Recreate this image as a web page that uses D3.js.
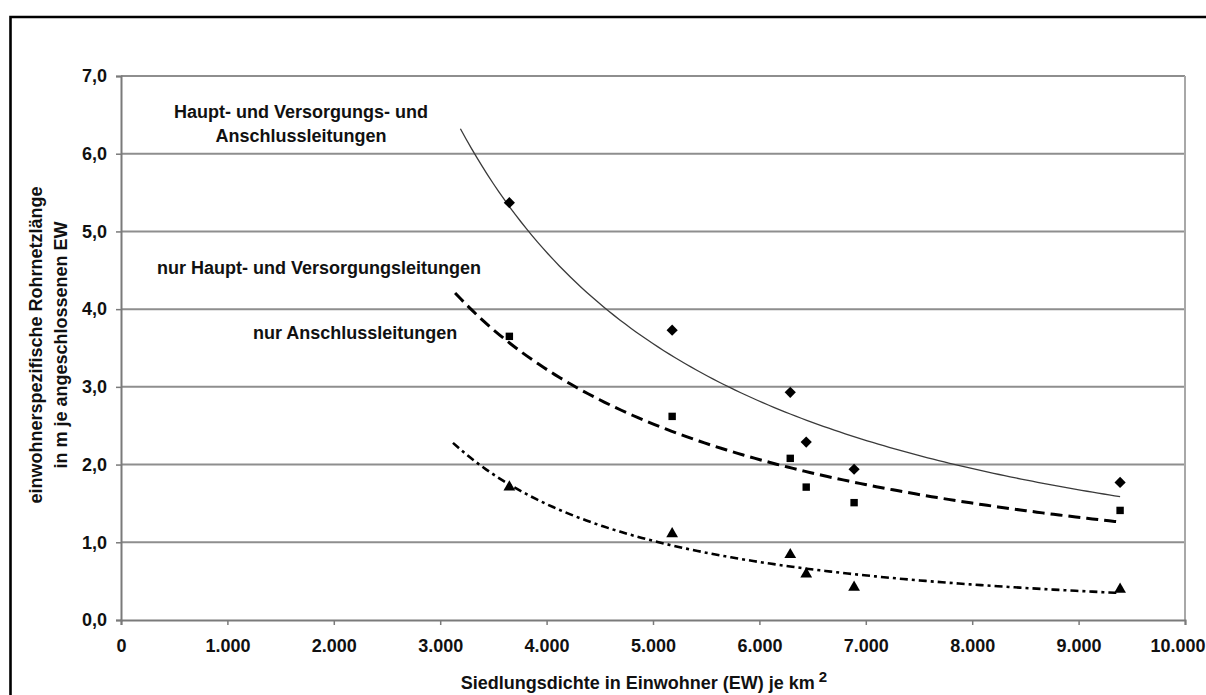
<!DOCTYPE html>
<html>
<head>
<meta charset="utf-8">
<script src="https://cdn.jsdelivr.net/npm/d3@7"></script>
<style>
  html, body { margin: 0; padding: 0; background: #fff; }
  svg { display: block; font-family: "Liberation Sans", Arial, sans-serif; }
  .tick text { font-weight: bold; fill: #111; }
</style>
</head>
<body>
<svg id="chart" width="1206" height="695"></svg>
<script>
// Siedlungsdichte (EW je km²) der untersuchten Netze
const density = [3650, 5180, 6290, 6440, 6890, 9390];
// Einwohnerspezifische Rohrnetzlänge in m je angeschlossenen EW
const totalLength   = [5.37, 3.73, 2.93, 2.29, 1.94, 1.77]; // Haupt-, Versorgungs- und Anschlussleitungen
const mainLength    = [3.65, 2.62, 2.08, 1.71, 1.51, 1.41]; // nur Haupt- und Versorgungsleitungen
const serviceLength = [1.71, 1.11, 0.84, 0.59, 0.42, 0.395]; // nur Anschlussleitungen

// Beginn der (rückwärts verlängerten) Trendlinien
const trendStart = [3190, 3140, 3120];

const yTicks = [0, 1, 2, 3, 4, 5, 6, 7];
const xTicks = [0, 1000, 2000, 3000, 4000, 5000, 6000, 7000, 8000, 9000, 10000];

const seriesLabels = [
  ["Haupt- und Versorgungs- und", "Anschlussleitungen"],
  ["nur Haupt- und Versorgungsleitungen"],
  ["nur Anschlussleitungen"]
];
const xTitle = "Siedlungsdichte in Einwohner (EW) je km";
const yTitle = ["einwohnerspezifische Rohrnetzlänge", "in m je angeschlossenen EW"];

const de = d3.formatLocale({ decimal: ",", thousands: ".", grouping: [3], currency: ["", " €"] });

const svg = d3.select("#chart");
const plot = { left: 121, right: 1185, top: 76, bottom: 620 };

const x = d3.scaleLinear().domain([0, 10000]).range([plot.left, plot.right]);
const y = d3.scaleLinear().domain([0, 7]).range([plot.bottom, plot.top]);

// Rahmen
svg.append("path")
  .attr("d", `M10.5,700 L10.5,17 L1210,17`)
  .attr("fill", "none").attr("stroke", "#000").attr("stroke-width", 2.6);

// Gitterlinien
svg.append("g").selectAll("line").data(yTicks.filter(d => d > 0)).join("line")
  .attr("x1", plot.left).attr("x2", plot.right)
  .attr("y1", d => y(d)).attr("y2", d => y(d))
  .attr("stroke", "#8e8e8e").attr("stroke-width", 2);

// rechter Rand der Zeichenfläche
svg.append("line")
  .attr("x1", plot.right).attr("x2", plot.right)
  .attr("y1", plot.top).attr("y2", plot.bottom)
  .attr("stroke", "#a8a8a8").attr("stroke-width", 2);

// Achsen
const yAxis = svg.append("g").attr("transform", `translate(${plot.left},0)`)
  .call(d3.axisLeft(y).tickValues(yTicks).tickFormat(de.format(",.1f")).tickSize(5).tickPadding(9));
const xAxis = svg.append("g").attr("transform", `translate(0,${plot.bottom})`)
  .call(d3.axisBottom(x).tickValues(xTicks).tickFormat(de.format(",.0f")).tickSize(5).tickPadding(14));
[yAxis, xAxis].forEach(a => {
  a.select(".domain").attr("stroke", "#7a7a7a").attr("stroke-width", 2);
  a.selectAll(".tick line").attr("stroke", "#7a7a7a").attr("stroke-width", 1.5);
  a.selectAll(".tick text").attr("font-size", 18);
});
// letzte Beschriftung bündig am rechten Bildrand
xAxis.selectAll(".tick").filter(d => d === 10000).select("text")
  .attr("text-anchor", "end").attr("x", 1205 - plot.right);

// Potenz-Trendlinie (Regression im log-log-Raum)
function powerFit(xs, ys) {
  const lx = xs.map(Math.log), ly = ys.map(Math.log);
  const mx = d3.mean(lx), my = d3.mean(ly);
  const b = d3.sum(lx, (v, i) => (v - mx) * (ly[i] - my)) / d3.sum(lx, v => (v - mx) ** 2);
  const a = Math.exp(my - b * mx);
  return v => a * Math.pow(v, b);
}

const series = [
  { values: totalLength,   symbol: d3.symbolDiamond2, size: 80, dash: null,       width: 1.3, color: "#3a3a3a" },
  { values: mainLength,    symbol: d3.symbolSquare,   size: 55, dash: "12,6",     width: 3,   color: "#000" },
  { values: serviceLength, symbol: d3.symbolTriangle, size: 60, dash: "8,4,3,4",  width: 2.6, color: "#000" }
];

const line = d3.line().x(d => x(d[0])).y(d => y(d[1]));

series.forEach((s, i) => {
  const f = powerFit(density, s.values);
  const x0 = trendStart[i], x1 = d3.max(density);
  const pts = d3.range(0, 121).map(k => { const v = x0 + (x1 - x0) * k / 120; return [v, f(v)]; });
  svg.append("path").datum(pts)
    .attr("d", line)
    .attr("fill", "none")
    .attr("stroke", s.color)
    .attr("stroke-width", s.width)
    .attr("stroke-dasharray", s.dash);

  svg.append("g").selectAll("path").data(density.map((d, j) => [d, s.values[j]])).join("path")
    .attr("transform", d => `translate(${x(d[0])},${y(d[1])})`)
    .attr("d", d3.symbol().type(s.symbol).size(s.size))
    .attr("fill", "#000");
});

// Beschriftung der Kurven
const labelPos = [
  { x: 301, y: 112, anchor: "middle" },
  { x: 157, y: 268, anchor: "start" },
  { x: 253, y: 333, anchor: "start" }
];
seriesLabels.forEach((lines, i) => {
  const t = svg.append("text")
    .attr("x", labelPos[i].x).attr("y", labelPos[i].y)
    .attr("text-anchor", labelPos[i].anchor)
    .attr("font-size", 18).attr("font-weight", "bold").attr("fill", "#111")
    .attr("dominant-baseline", "central");
  lines.forEach((l, k) => t.append("tspan").attr("x", labelPos[i].x).attr("dy", k === 0 ? 0 : 24).text(l));
});

// Achsentitel
const xt = svg.append("text")
  .attr("x", 644).attr("y", 689)
  .attr("text-anchor", "middle")
  .attr("font-size", 18).attr("font-weight", "bold").attr("fill", "#111");
xt.append("tspan").text(xTitle);
xt.append("tspan").attr("dx", 4).attr("dy", -7).attr("font-size", 15).text("2");

const yt = svg.append("text")
  .attr("transform", `translate(0,${(plot.top + plot.bottom) / 2 - 3}) rotate(-90)`)
  .attr("text-anchor", "middle")
  .attr("font-size", 18).attr("font-weight", "bold").attr("fill", "#111");
yTitle.forEach((l, k) => yt.append("tspan").attr("x", 0).attr("y", 42 + k * 25).text(l));
</script>
</body>
</html>
